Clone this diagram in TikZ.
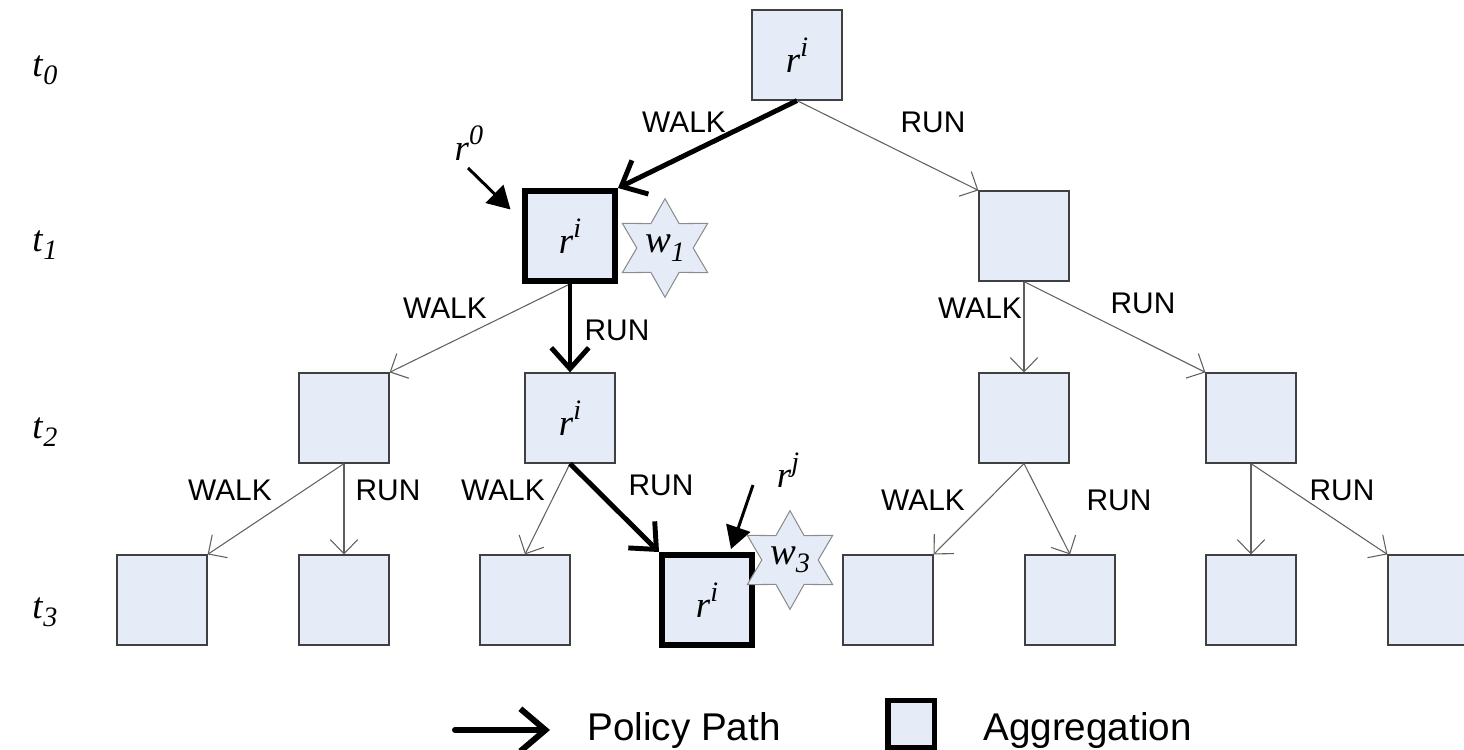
\documentclass[tikz,border=0pt]{standalone}
\usepackage{fontspec}
\setmainfont{Liberation Serif}
\newfontfamily\arialfont{Liberation Sans}
\usetikzlibrary{arrows.meta,shapes.geometric}

\definecolor{boxfill}{RGB}{230,236,247}
\definecolor{edgegray}{RGB}{95,95,95}

\newcommand{\supsym}[2]{\textit{#1}\raisebox{0.45em}{\fontsize{16}{16}\selectfont\textit{#2}}}
\newcommand{\subsym}[2]{\textit{#1}\raisebox{-0.22em}{\fontsize{16}{16}\selectfont\textit{#2}}}

\tikzset{
  state/.style={draw=black!75, fill=boxfill, line width=0.7pt, minimum size=1.8cm,
    inner sep=0pt, font=\fontsize{21}{24}\selectfont},
  agg/.style={state, draw=black, line width=3.4pt},
  act/.style={draw=edgegray, line width=0.6pt, -{Straight Barb[length=0.28cm,width=0.55cm]}},
  policy/.style={line width=2.8pt, -{Straight Barb[length=0.42cm,width=0.75cm]}},
  pointer/.style={line width=1.7pt, -{Triangle[length=0.45cm,width=0.5cm]}},
  lbl/.style={font=\arialfont\fontsize{17}{20}\selectfont, inner sep=0pt},
  sym/.style={font=\fontsize{21}{24}\selectfont, inner sep=0pt},
  weight/.style={star, star points=6, star point ratio=1.75, draw=black!45,
    fill=boxfill, line width=0.6pt, minimum size=1.6cm, inner sep=0pt,
    font=\fontsize{22}{24}\selectfont},
  legtext/.style={font=\arialfont\fontsize{22}{26}\selectfont, inner sep=0pt, anchor=base west}
}

\begin{document}
\begin{tikzpicture}[x=0.02cm, y=-0.02cm]
  \useasboundingbox (0,0) rectangle (1464,750);

  % time steps
  \node[sym] (t0) at (45,70) {\subsym{t}{0}};
  \node[sym] (t1) at (45,245) {\subsym{t}{1}};
  \node[sym] (t2) at (45,432) {\subsym{t}{2}};
  \node[sym] (t3) at (45,612) {\subsym{t}{3}};

  % states
  \node[state] (root) at (797,55) {\supsym{r}{i}};
  \node[agg] (l1a) at (570,236) {\supsym{r}{i}};
  \node[state] (l1b) at (1024,236) {};
  \node[state] (l2a) at (344,418) {};
  \node[state] (l2b) at (570,418) {\supsym{r}{i}};
  \node[state] (l2c) at (1024,418) {};
  \node[state] (l2d) at (1251,418) {};
  \node[state] (l3a) at (162,600) {};
  \node[state] (l3b) at (344,600) {};
  \node[state] (l3c) at (525,600) {};
  \node[agg] (l3d) at (707,600) {\supsym{r}{i}};
  \node[state] (l3e) at (888,600) {};
  \node[state] (l3f) at (1070,600) {};
  \node[state] (l3g) at (1251,600) {};
  \node[state] (l3h) at (1433,600) {};

  % actions
  \draw[policy] (root.south) -- (l1a.north east);
  \draw[act] (root.south) -- (l1b.north west);
  \draw[act] (l1a.south) -- (l2a.north east);
  \draw[policy] (l1a.south) -- (l2b.north);
  \draw[act] (l1b.south) -- (l2c.north);
  \draw[act] (l1b.south) -- (l2d.north west);
  \draw[act] (l2a.south) -- (l3a.north east);
  \draw[act] (l2a.south) -- (l3b.north);
  \draw[act] (l2b.south) -- (l3c.north);
  \draw[policy] (l2b.south) -- (l3d.north west);
  \draw[act] (l2c.south) -- (l3e.north east);
  \draw[act] (l2c.south) -- (l3f.north);
  \draw[act] (l2d.south) -- (l3g.north);
  \draw[act] (l2d.south) -- (l3h.north west);

  \node[lbl] (walk0) at (684,122) {WALK};
  \node[lbl] (run0) at (933,122) {RUN};
  \node[lbl] (walk1a) at (445,308) {WALK};
  \node[lbl] (run1a) at (617,330) {RUN};
  \node[lbl] (walk1b) at (980,308) {WALK};
  \node[lbl] (run1b) at (1143,303) {RUN};
  \node[lbl] (walk2a) at (230,490) {WALK};
  \node[lbl] (run2a) at (388,490) {RUN};
  \node[lbl] (walk2b) at (503,490) {WALK};
  \node[lbl] (run2b) at (661,485) {RUN};
  \node[lbl] (walk2c) at (923,500) {WALK};
  \node[lbl] (run2c) at (1119,500) {RUN};
  \node[lbl] (run2d) at (1342,490) {RUN};

  % rewards and weights
  \node[sym] (r0) at (469,143) {\supsym{r}{0}};
  \coordinate (r0tail) at (468,168);
  \draw[pointer] (r0tail) -- ([xshift=-0.23cm,yshift=-0.43cm]l1a.north west);
  \node[sym] (rj) at (788,470) {\supsym{r}{j}};
  \coordinate (rjtail) at (753,485);
  \draw[pointer] (rjtail) -- ([xshift=0.48cm,yshift=0.06cm]l3d.north);
  \node[weight] (w1) at (665,248) {\subsym{w}{1}};
  \node[weight] (w3) at (790,560) {\subsym{w}{3}};

  % legend
  \coordinate (legA) at (455,730);
  \coordinate (legB) at (550,730);
  \draw[line width=3.4pt, line cap=round, -{Straight Barb[length=0.5cm,width=0.85cm]}] (legA) -- (legB);
  \node[legtext] (legPolicy) at (587,740) {Policy Path};
  \node[agg, minimum size=0.94cm] (legBox) at (911,724) {};
  \node[legtext] (legAgg) at (983,740) {Aggregation};
\end{tikzpicture}
\end{document}
